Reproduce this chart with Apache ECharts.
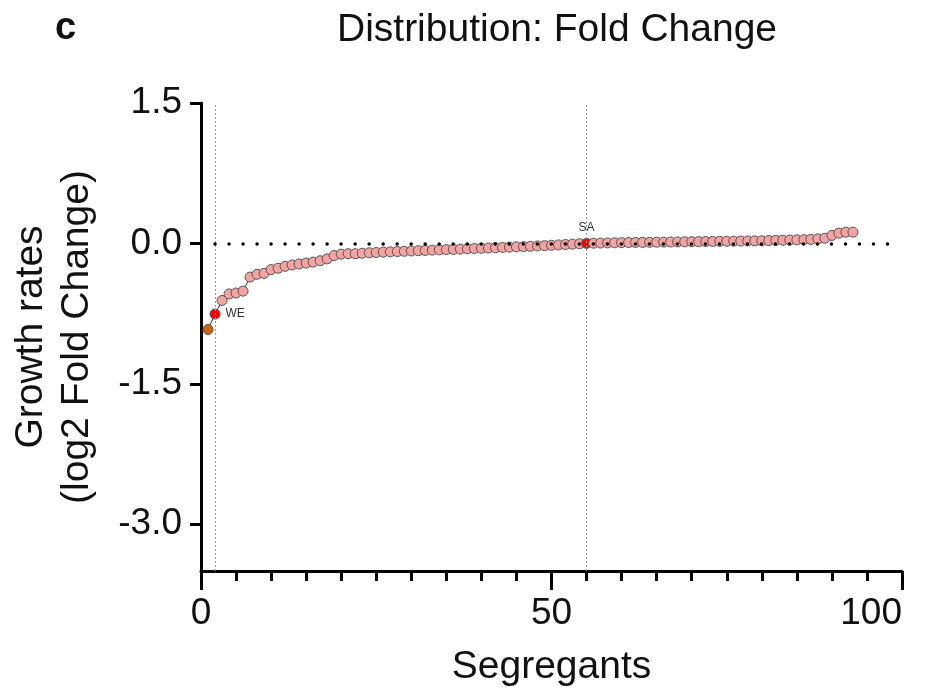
<!DOCTYPE html>
<html>
<head>
<meta charset="utf-8">
<script src="https://cdn.jsdelivr.net/npm/echarts@6/dist/echarts.min.js"></script>
<style>html,body{margin:0;padding:0;background:#fff;}#c{width:937px;height:698px;}</style>
</head>
<body>
<div id="c"></div>
<script>
// Segregant index (1..93) and log2 fold change, sorted
const segregants = [];
for (let i = 1; i <= 93; i++) segregants.push(i);
const foldChange = [
  -0.92, -0.755, -0.61, -0.54, -0.53, -0.51, -0.36, -0.33, -0.32, -0.28,
  -0.265, -0.245, -0.23, -0.22, -0.21, -0.2, -0.185, -0.165, -0.13, -0.115,
  -0.11, -0.11, -0.105, -0.1, -0.097, -0.093, -0.09, -0.087, -0.084, -0.081,
  -0.078, -0.075, -0.072, -0.069, -0.066, -0.064, -0.061, -0.058, -0.055, -0.052,
  -0.049, -0.046, -0.043, -0.04, -0.037, -0.034, -0.031, -0.027, -0.024, -0.02,
  -0.016, -0.012, -0.008, -0.004, 0.0, 0.002, 0.004, 0.005, 0.006, 0.008,
  0.009, 0.01, 0.011, 0.012, 0.013, 0.014, 0.015, 0.016, 0.017, 0.018,
  0.019, 0.02, 0.021, 0.022, 0.023, 0.024, 0.025, 0.026, 0.027, 0.028,
  0.03, 0.032, 0.034, 0.036, 0.038, 0.04, 0.043, 0.048, 0.055, 0.085,
  0.11, 0.12, 0.12
];
const highlights = { 1: { color: '#C8650E' }, 2: { color: '#FF0000', label: 'WE', pos: 'right' }, 55: { color: '#FF0000', label: 'SA', pos: 'top' } };
const yTicks = [1.5, 0, -1.5, -3.0];
const xTicks = [0, 50, 100];
const refLinesX = [2, 55];

const font = 'Liberation Sans, Arial, sans-serif';
const data = segregants.map((s, i) => {
  const h = highlights[s];
  const item = { value: [s, foldChange[i]] };
  if (h) {
    item.itemStyle = { color: h.color };
    if (h.label) {
      item.label = { show: true, formatter: h.label, position: h.pos, distance: h.pos === 'top' ? 4 : 5,
        fontSize: 12, color: '#333', fontFamily: font };
    }
  }
  return item;
});

const chart = echarts.init(document.getElementById('c'), null, { renderer: 'canvas' });
chart.setOption({
  animation: false,
  backgroundColor: '#fff',
  title: [
    { text: 'Distribution: Fold Change', left: 552, top: 6, textAlign: 'center',
      textStyle: { fontFamily: font, fontSize: 39, fontWeight: 'normal', color: '#111' } },
    { text: 'c', left: 50, top: 5,
      textStyle: { fontFamily: font, fontSize: 38, fontWeight: 'bold', color: '#111' } }
  ],
  grid: { left: 201, right: 35, top: 103, bottom: 127, containLabel: false },
  xAxis: {
    type: 'value', min: 0, max: 100, interval: 50,
    name: 'Segregants', nameLocation: 'middle', nameGap: 77,
    nameTextStyle: { fontFamily: font, fontSize: 39, color: '#111' },
    axisLine: { onZero: false, lineStyle: { color: '#000', width: 3 } },
    axisTick: { length: 19, lineStyle: { color: '#000', width: 3 } },
    minorTick: { show: true, splitNumber: 10, length: 10, lineStyle: { color: '#000', width: 3 } },
    axisLabel: { fontFamily: font, fontSize: 37, color: '#111', margin: 24,
      customValues: xTicks, alignMaxLabel: 'right' },
    splitLine: { show: false }, minorSplitLine: { show: false }
  },
  yAxis: {
    type: 'value', min: -3.5, max: 1.5,
    name: 'Growth rates\n(log2 Fold Change)', nameLocation: 'middle', nameGap: 101,
    nameTextStyle: { fontFamily: font, fontSize: 39, color: '#111', lineHeight: 46 },
    axisLine: { onZero: false, lineStyle: { color: '#000', width: 3 } },
    axisTick: { length: 11, lineStyle: { color: '#000', width: 3 }, customValues: yTicks },
    axisLabel: { fontFamily: font, fontSize: 37, color: '#111', margin: 19,
      customValues: yTicks, formatter: v => v.toFixed(1) },
    splitLine: { show: false }
  },
  series: [
    {
      type: 'line', data: [], z: 1, silent: true,
      markLine: {
        silent: true, symbol: 'none', label: { show: false },
        data: [
          ...refLinesX.map(x => ({ xAxis: x, lineStyle: { color: '#999', width: 1, type: [2, 2] } })),
          [ { coord: [2, 0], lineStyle: { color: '#000', width: 3.5, type: [0.01, 14], cap: 'round' } }, { coord: [98, 0] } ]
        ]
      }
    },
    {
      type: 'line', data: data, z: 3,
      symbol: 'circle', symbolSize: 10,
      lineStyle: { color: '#333', width: 1 },
      itemStyle: { color: '#F4A3A3', borderColor: '#555', borderWidth: 1 },
      emphasis: { disabled: true }
    }
  ]
});
</script>
</body>
</html>
